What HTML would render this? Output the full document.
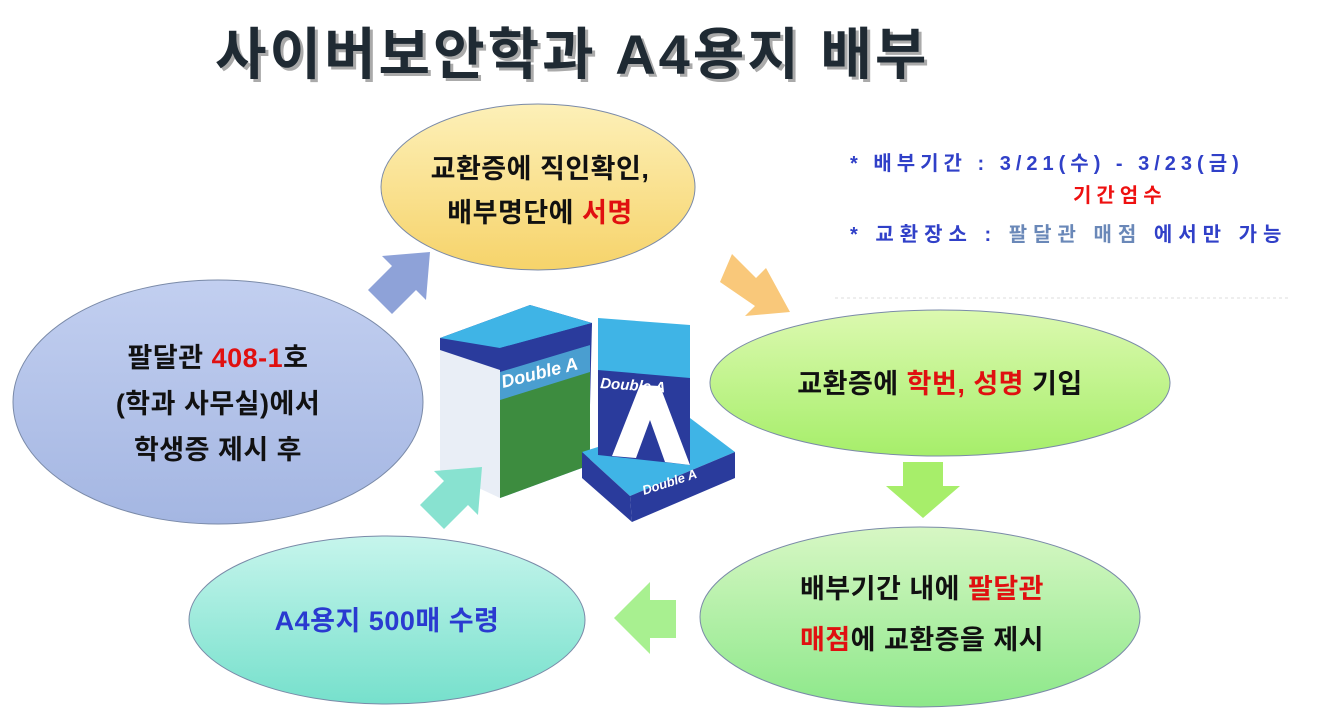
<!DOCTYPE html>
<html><head><meta charset="utf-8"><style>
html,body{margin:0;padding:0;background:#fff;}
svg{display:block;font-family:"Liberation Sans","Noto Sans CJK KR",sans-serif;}
</style></head><body>
<svg width="1319" height="726" viewBox="0 0 1319 726">
<defs>
<linearGradient id="gy" x1="0" y1="0" x2="0" y2="1"><stop offset="0" stop-color="#fdf0b8"/><stop offset="1" stop-color="#f6d36a"/></linearGradient>
<linearGradient id="gg" x1="0" y1="0" x2="0" y2="1"><stop offset="0" stop-color="#dcf9b0"/><stop offset="1" stop-color="#a6ee6a"/></linearGradient>
<linearGradient id="gg2" x1="0" y1="0" x2="0" y2="1"><stop offset="0" stop-color="#d7f7c4"/><stop offset="1" stop-color="#8de88a"/></linearGradient>
<linearGradient id="gt" x1="0" y1="0" x2="0" y2="1"><stop offset="0" stop-color="#c6f5ec"/><stop offset="1" stop-color="#76e0cc"/></linearGradient>
<linearGradient id="gb" x1="0" y1="0" x2="0" y2="1"><stop offset="0" stop-color="#c2cff0"/><stop offset="1" stop-color="#a4b6e2"/></linearGradient>
</defs>
<text x="215" y="74" font-size="56" font-weight="bold" letter-spacing="3" fill="#aaa" transform="translate(3,3)">사이버보안학과 A4용지 배부</text>
<text x="215" y="74" font-size="56" font-weight="bold" letter-spacing="3" fill="#1f2a33">사이버보안학과 A4용지 배부</text>

<ellipse cx="538" cy="187" rx="157" ry="83" fill="url(#gy)" stroke="#7a8aa8" stroke-width="1"/>
<ellipse cx="940" cy="383" rx="230" ry="73" fill="url(#gg)" stroke="#7a8aa8" stroke-width="1"/>
<ellipse cx="920" cy="617" rx="220" ry="90" fill="url(#gg2)" stroke="#7a8aa8" stroke-width="1"/>
<ellipse cx="387" cy="620" rx="198" ry="84" fill="url(#gt)" stroke="#7a8aa8" stroke-width="1"/>
<ellipse cx="218" cy="402" rx="205" ry="122" fill="url(#gb)" stroke="#7a8aa8" stroke-width="1"/>

<polygon points="368,290 392,266 382,256 430,252 426,300 416,290 392,314" fill="#8ea2d8"/>
<polygon points="732,254 756,278 766,268 790,312 745,316 755,306 720,282" fill="#f9c87a"/>
<polygon points="903,462 943,462 943,486 960,486 923,518 886,486 903,486" fill="#a7ee6a"/>
<polygon points="676,600 676,638 650,638 650,654 614,618 650,582 650,600" fill="#a8f090"/>

<polygon points="440,338 530,305 592,323 590,405 502,430 440,400" fill="#2a3b9c"/>
<polygon points="440,338 530,305 592,323 500,348" fill="#3fb4e6"/>
<polygon points="500,370 590,345 590,465 500,498" fill="#4a9ed0"/>
<polygon points="500,400 590,372 590,465 500,498" fill="#3d8c3f"/>
<polygon points="440,350 500,370 500,498 440,470" fill="#e9eef6"/>
<polygon points="500,348 592,323 590,345 500,372" fill="#2a3b9c"/>
<text x="503" y="388" font-size="18" font-style="italic" font-weight="bold" fill="#fff" transform="rotate(-14 503 388)">Double A</text>
<polygon points="582,452 690,418 735,452 630,496" fill="#3fb4e6"/>
<polygon points="582,452 630,496 632,522 582,478" fill="#2a3b9c"/>
<polygon points="630,496 735,452 735,478 632,522" fill="#2a3b9c"/>
<polygon points="598,318 690,325 690,465 598,455" fill="#3fb4e6"/>
<polygon points="598,370 690,378 690,465 598,455" fill="#2a3b9c"/>
<polygon points="640,385 660,386 690,465 665,462 650,420 636,458 612,456" fill="#fff"/>
<text x="600" y="388" font-size="15" font-style="italic" font-weight="bold" fill="#fff" transform="rotate(4 600 388)">Double A</text>
<text x="644" y="495" font-size="13" font-style="italic" font-weight="bold" fill="#fff" transform="rotate(-18 644 495)">Double A</text>

<polygon points="420,505 444,481 434,471 482,467 478,515 468,505 444,529" fill="#88e2d0"/>

<g font-size="27" font-weight="bold" letter-spacing="0.5" text-anchor="middle" fill="#111">
<text x="540" y="178">교환증에 직인확인,</text>
<text x="540" y="222">배부명단에 <tspan fill="#e01010">서명</tspan></text>
<text x="940" y="393">교환증에 <tspan fill="#e01010">학번, 성명</tspan> 기입</text>
<text x="922" y="598">배부기간 내에 <tspan fill="#e01010">팔달관</tspan></text>
<text x="922" y="649"><tspan fill="#e01010">매점</tspan>에 교환증을 제시</text>
<text x="387" y="630" fill="#2a3ad0">A4용지 500매 수령</text>
<text x="218" y="367">팔달관 <tspan fill="#e01010">408-1</tspan>호</text>
<text x="218" y="413">(학과 사무실)에서</text>
<text x="218" y="459">학생증 제시 후</text>
</g>
<g font-size="20" font-weight="bold" letter-spacing="5" fill="#3040c8">
<text x="850" y="170">* 배부기간 : 3/21(수) - 3/23(금)</text>
<text x="1073" y="202" fill="#ee1010">기간엄수</text>
<text x="850" y="241" letter-spacing="6">* 교환장소 : <tspan fill="#6a88b8">팔달관 매점</tspan> 에서만 가능</text>
</g>
<line x1="835" y1="298" x2="1290" y2="298" stroke="#eee" stroke-width="2" stroke-dasharray="3,3"/>
</svg>
</body></html>
